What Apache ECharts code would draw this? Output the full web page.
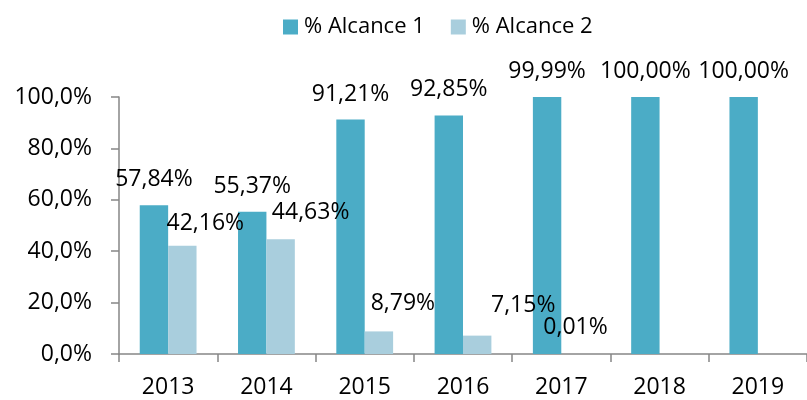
<!DOCTYPE html>
<html>
<head>
<meta charset="utf-8">
<style>
  html, body { margin: 0; padding: 0; background: #fff; }
  #chart { width: 807px; height: 400px; }
</style>
<script src="https://cdn.jsdelivr.net/npm/echarts@6/dist/echarts.min.js"></script>
</head>
<body>
<div id="chart"></div>
<script>
const years = ['2013', '2014', '2015', '2016', '2017', '2018', '2019']
const alcance1 = [57.84, 55.37, 91.21, 92.85, 99.99, 100, 100]
const alcance2 = [42.16, 44.63, 8.79, 7.15, 0.01, 0, 0]
const yTicks = [0, 20, 40, 60, 80, 100]

// label nudges (px) so the second series labels sit like the original
const labelShift2 = [[23, 3], [30, -1], [24, -2], [46, -5], [0, -1], [0, 0], [0, 0]]

const font = 'Open Sans'
const fs = 23
const pct = (v, d) => v.toFixed(d).replace('.', ',') + '%'

const chart = echarts.init(document.getElementById('chart'))

chart.setOption({
  animation: false,
  textStyle: { fontFamily: font },
  legend: {
    left: 278,
    top: 11,
    itemWidth: 15,
    itemHeight: 15,
    itemGap: 26,
    icon: 'rect',
    textStyle: { fontFamily: font, fontSize: 22, color: '#000', padding: [0, 0, 0, 1] },
    data: ['% Alcance 1', '% Alcance 2']
  },
  grid: { left: 119, top: 97, width: 694, height: 257 },
  xAxis: {
    type: 'category',
    data: years,
    axisLine: { lineStyle: { color: '#868686', width: 1.5 } },
    axisTick: { show: true, length: 8, lineStyle: { color: '#868686', width: 1.5 } },
    axisLabel: { fontFamily: font, fontSize: fs, color: '#000', margin: 22 }
  },
  yAxis: {
    type: 'value',
    min: yTicks[0],
    max: yTicks[yTicks.length - 1],
    interval: yTicks[1] - yTicks[0],
    splitLine: { show: false },
    axisLine: { show: true, lineStyle: { color: '#868686', width: 1.5 } },
    axisTick: { show: true, length: 8, lineStyle: { color: '#868686', width: 1.5 } },
    axisLabel: { fontFamily: font, fontSize: fs, color: '#000', margin: 27, formatter: (v) => pct(v, 1) }
  },
  series: [
    {
      name: '% Alcance 1',
      type: 'bar',
      barWidth: 28.4,
      barGap: '0%',
      itemStyle: { color: '#4BACC6' },
      label: {
        show: true,
        position: 'top',
        distance: 14,
        fontFamily: font,
        fontSize: fs,
        color: '#000',
        formatter: (p) => pct(p.value, 2)
      },
      data: alcance1
    },
    {
      name: '% Alcance 2',
      type: 'bar',
      barWidth: 28.4,
      itemStyle: { color: '#A9CEDD' },
      data: alcance2.map((v, i) => ({
        value: v,
        label: {
          show: v > 0,
          position: 'top',
          distance: 14,
          offset: labelShift2[i],
          fontFamily: font,
          fontSize: fs,
          color: '#000',
          formatter: (p) => pct(p.value, 2)
        }
      }))
    }
  ]
})
</script>
</body>
</html>
